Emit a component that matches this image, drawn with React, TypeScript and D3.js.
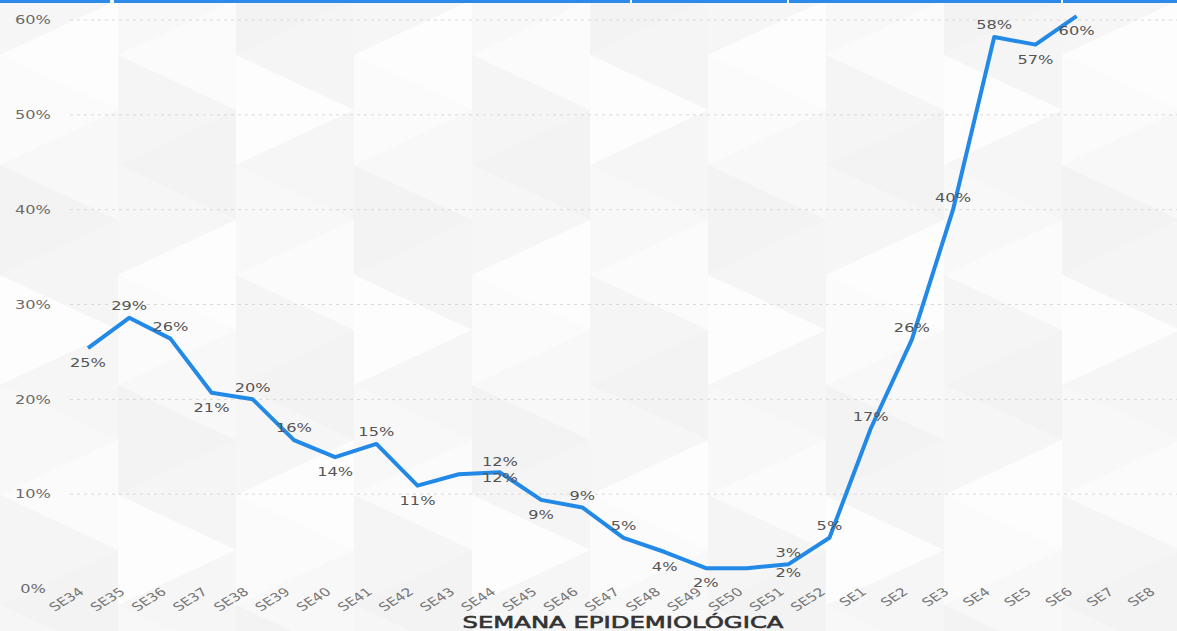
import React from "react";
import * as d3 from "d3";

const categories = [
  "SE34", "SE35", "SE36", "SE37", "SE38", "SE39", "SE40", "SE41", "SE42", "SE43",
  "SE44", "SE45", "SE46", "SE47", "SE48", "SE49", "SE50", "SE51", "SE52",
  "SE1", "SE2", "SE3", "SE4", "SE5", "SE6", "SE7", "SE8",
];
const lineCategories = categories.slice(0, 25);
const values = [
  25.4, 28.6, 26.4, 20.7, 20.0, 15.7, 13.9, 15.3, 10.9, 12.1,
  12.3, 9.4, 8.6, 5.4, 3.9, 2.2, 2.2, 2.6, 5.4,
  16.9, 26.3, 40.0, 58.2, 57.4, 60.4,
];
// where each value's label appears in the picture
const labelAnchors = [
  "SE34", "SE35", "SE36", "SE37", "SE38", "SE39", "SE40", "SE41", "SE42", "SE44",
  "SE44", "SE45", "SE46", "SE47", "SE48", "SE49", "SE51", "SE51", "SE52",
  "SE1", "SE2", "SE3", "SE4", "SE5", "SE6",
];
const labelSides = [
  "below", "above", "above", "below", "above", "above", "below", "above", "below", "above",
  "mid", "below", "above", "above", "below", "below", "mid", "above", "above",
  "above", "above", "above", "above", "below", "below",
];
const yTicks = [0, 10, 20, 30, 40, 50, 60];
const axisTitle = "SEMANA EPIDEMIOLÓGICA";
const topBarBreaks = [0, 112, 630, 787, 1061, 1177];

const W = 1177;
const H = 631;
const FONT = "'DejaVu Sans', sans-serif";
const SX = 1.35;

export default function App() {
  const x = d3.scalePoint<string>().domain(categories).range([88, 1159]);
  const y = d3.scaleLinear().domain([0, 60]).range([589, 20]);
  const pct = d3.format(".0%");

  const line = d3
    .line<number>()
    .x((_, i) => x(lineCategories[i]) as number)
    .y((d) => y(d));

  const sideOffset = (s: string) => (s === "above" ? -12 : s === "below" ? 15 : 5);

  // decorative low-poly background
  const tri: { pts: string; fill: string }[] = [];
  const shades = ["#f6f6f6", "#fbfbfb", "#f3f3f3", "#fdfdfd", "#f8f8f8", "#f5f5f5"];
  const cw = 118, ch = 110;
  let k = 0;
  for (let cx = 0; cx < W + cw; cx += cw) {
    for (let cy = -ch / 2; cy < H + ch; cy += ch) {
      tri.push({ pts: `${cx},${cy} ${cx + cw},${cy + ch / 2} ${cx},${cy + ch}`, fill: shades[k % 6] });
      tri.push({ pts: `${cx + cw},${cy + ch / 2} ${cx},${cy + ch} ${cx + cw},${cy + ch * 1.5}`, fill: shades[(k + 3) % 6] });
      k += 1;
    }
    k += 2;
  }

  return (
    <svg
      width={W}
      height={H}
      style={{ position: "absolute", left: 0, top: 0, background: "#fafafa" }}
      fontFamily={FONT}
    >
      <g>
        {tri.map((t, i) => (
          <polygon key={i} points={t.pts} fill={t.fill} />
        ))}
      </g>
      {topBarBreaks.slice(0, -1).map((b, i) => (
        <rect key={i} x={b + (i ? 2 : 0)} y={0} width={topBarBreaks[i + 1] - b - 2} height={3} fill="#2b8be6" />
      ))}
      {yTicks.map((t) => (
        <g key={t}>
          {t > 0 && (
            <line x1={70} x2={W} y1={y(t)} y2={y(t)} stroke="#d9d9d9" strokeWidth={1} strokeDasharray="3,4" />
          )}
          <text
            transform={`translate(33,${y(t)}) scale(${SX},1)`}
            textAnchor="middle"
            dominantBaseline="central"
            fontSize={12}
            fill="#6b6b6b"
          >
            {pct(t / 100)}
          </text>
        </g>
      ))}
      {categories.map((c) => (
        <text
          key={c}
          transform={`translate(${(x(c) as number) - 3},${593}) scale(${SX},1) rotate(-40)`}
          textAnchor="end"
          fontSize={11.5}
          fill="#777"
        >
          {c}
        </text>
      ))}
      <path d={line(values) as string} fill="none" stroke="#2389e6" strokeWidth={4} strokeLinejoin="round" />
      {values.map((v, i) => (
        <text
          key={i}
          transform={`translate(${x(labelAnchors[i]) as number},${y(v) + sideOffset(labelSides[i])}) scale(${SX},1)`}
          textAnchor="middle"
          dominantBaseline="central"
          fontSize={12}
          fill="#555"
        >
          {pct(Math.round(v) / 100)}
        </text>
      ))}
      <text
        x={623}
        y={628}
        textAnchor="middle"
        fontSize={16}
        fill="#333"
        stroke="#333"
        strokeWidth={0.6}
        textLength={321}
        lengthAdjust="spacingAndGlyphs"
      >
        {axisTitle}
      </text>
    </svg>
  );
}
